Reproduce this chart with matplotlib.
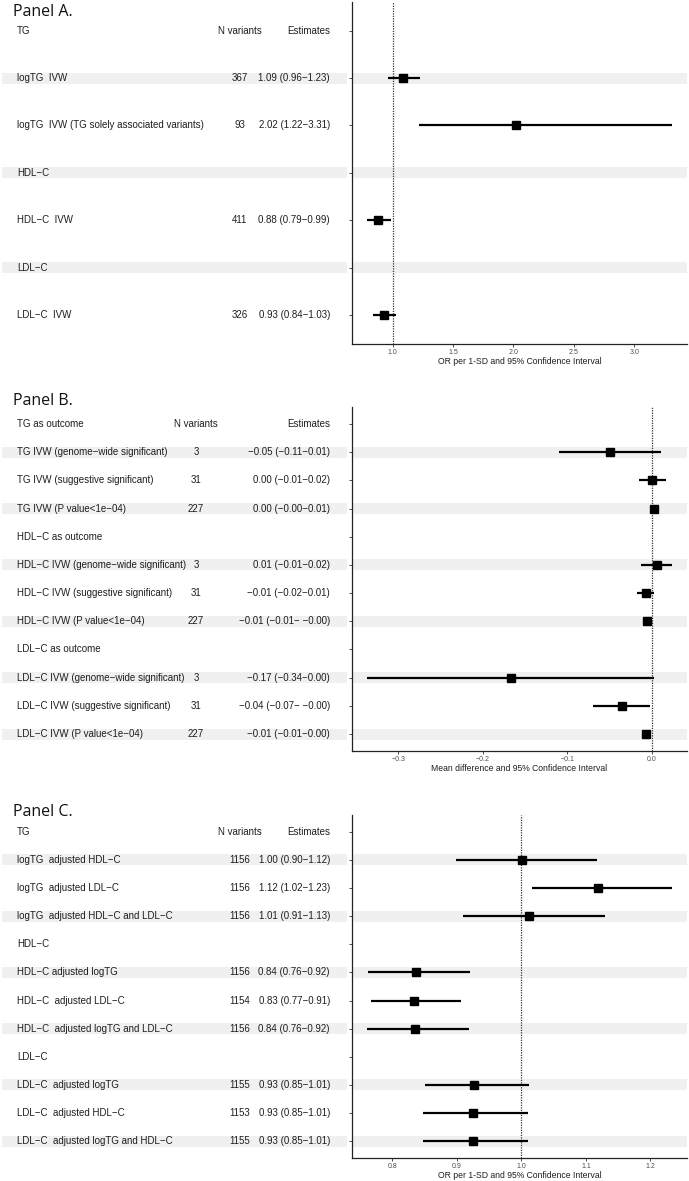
import numpy as np
import matplotlib.pyplot as plt

MINUS = "\u2212"

# ---- Panel A data
a_labels = ["TG", "logTG  IVW", "logTG  IVW (TG solely associated variants)", "HDL-C",
            "HDL-C  IVW", "LDL-C", "LDL-C  IVW"]
a_n = ["N variants", "367", "93", "", "411", "", "326"]
a_est_txt = ["Estimates", "1.09 (0.96-1.23)", "2.02 (1.22-3.31)", "", "0.88 (0.79-0.99)", "",
             "0.93 (0.84-1.03)"]
a_est = [np.nan, 1.09, 2.02, np.nan, 0.88, np.nan, 0.93]
a_lo = [np.nan, 0.96, 1.22, np.nan, 0.79, np.nan, 0.84]
a_hi = [np.nan, 1.23, 3.31, np.nan, 0.99, np.nan, 1.03]
a_ticks = [1.0, 1.5, 2.0, 2.5, 3.0]

# ---- Panel B data
b_labels = ["TG as outcome", "TG IVW (genome-wide significant)", "TG IVW (suggestive significant)",
            "TG IVW (P value<1e-04)", "HDL-C as outcome", "HDL-C IVW (genome-wide significant)",
            "HDL-C IVW (suggestive significant)", "HDL-C IVW (P value<1e-04)", "LDL-C as outcome",
            "LDL-C IVW (genome-wide significant)", "LDL-C IVW (suggestive significant)",
            "LDL-C IVW (P value<1e-04)"]
b_n = ["N variants", "3", "31", "227", "", "3", "31", "227", "", "3", "31", "227"]
b_est_txt = ["Estimates", "-0.05 (-0.11-0.01)", "0.00 (-0.01-0.02)", "0.00 (-0.00-0.01)", "",
             "0.01 (-0.01-0.02)", "-0.01 (-0.02-0.01)", "-0.01 (-0.01- -0.00)", "",
             "-0.17 (-0.34-0.00)", "-0.04 (-0.07- -0.00)", "-0.01 (-0.01-0.00)"]
b_est = [np.nan, -0.049, 0.001, 0.003, np.nan, 0.006, -0.007, -0.005, np.nan, -0.167, -0.0355, -0.006]
b_lo = [np.nan, -0.110, -0.015, -0.001, np.nan, -0.012, -0.017, -0.009, np.nan, -0.337, -0.069, -0.011]
b_hi = [np.nan, 0.011, 0.017, 0.006, np.nan, 0.024, 0.003, -0.002, np.nan, 0.003, -0.002, -0.001]
b_ticks = [-0.3, -0.2, -0.1, 0.0]

# ---- Panel C data
c_labels = ["TG", "logTG  adjusted HDL-C", "logTG  adjusted LDL-C", "logTG  adjusted HDL-C and LDL-C",
            "HDL-C", "HDL-C adjusted logTG", "HDL-C  adjusted LDL-C", "HDL-C  adjusted logTG and LDL-C",
            "LDL-C", "LDL-C  adjusted logTG", "LDL-C  adjusted HDL-C", "LDL-C  adjusted logTG and HDL-C"]
c_n = ["N variants", "1156", "1156", "1156", "", "1156", "1154", "1156", "", "1155", "1153", "1155"]
c_est_txt = ["Estimates", "1.00 (0.90-1.12)", "1.12 (1.02-1.23)", "1.01 (0.91-1.13)", "",
             "0.84 (0.76-0.92)", "0.83 (0.77-0.91)", "0.84 (0.76-0.92)", "",
             "0.93 (0.85-1.01)", "0.93 (0.85-1.01)", "0.93 (0.85-1.01)"]
c_est = [np.nan, 1.001, 1.119, 1.012, np.nan, 0.836, 0.833, 0.835, np.nan, 0.927, 0.925, 0.925]
c_lo = [np.nan, 0.899, 1.017, 0.909, np.nan, 0.762, 0.767, 0.761, np.nan, 0.850, 0.848, 0.848]
c_hi = [np.nan, 1.117, 1.233, 1.130, np.nan, 0.920, 0.906, 0.919, np.nan, 1.012, 1.010, 1.010]
c_ticks = [0.8, 0.9, 1.0, 1.1, 1.2]

W, H = 689, 1181
fig = plt.figure(figsize=(W / 100, H / 100), dpi=100)
plt.rcParams['font.family'] = ['Liberation Sans', 'DejaVu Sans']

TXT = '#1e1e1e'
BAND = '#f0f0f0'
FS = 7.0


def rect(x0, x1, ytop, ybot):
    return [x0 / W, 1 - ybot / H, (x1 - x0) / W, (ybot - ytop) / H]


def m(s):
    return s.replace("-", MINUS)


def panel(title, ytitle, ytop, ybot, labels, nvar, est_txt, est, lo, hi, ticks, ref, xlab, ncol_x):
    n = len(labels)
    ys = np.arange(n)[::-1]
    ylim = (-0.6, n - 1 + 0.6)
    ppu = (ybot - ytop) / (ylim[1] - ylim[0])
    hb = 5.5 / ppu

    fig.text(13 / W, 1 - ytitle / H, title, family='Open Sans', fontsize=11.5, va='baseline',
             ha='left', color='#111111')

    # table on the left
    tx = fig.add_axes(rect(0, 347, ytop, ybot))
    tx.set_xlim(0, 347)
    tx.set_ylim(*ylim)
    tx.axis('off')
    for i, y in enumerate(ys):
        if i % 2 == 1:
            tx.axhspan(y - hb, y + hb, xmin=2 / 347, color=BAND, lw=0)
        tx.text(17, y, m(labels[i]), fontsize=FS, va='center', ha='left', color=TXT)
        tx.text(ncol_x, y, nvar[i], fontsize=FS, va='center', ha='center', color=TXT)
        tx.text(330, y, m(est_txt[i]), fontsize=FS, va='center', ha='right', color=TXT)

    # forest plot
    ax = fig.add_axes(rect(352, 687, ytop, ybot))
    for i, y in enumerate(ys):
        if i % 2 == 1:
            ax.axhspan(y - hb, y + hb, color=BAND, lw=0, zorder=0)
    est = np.array(est)
    lo = np.array(lo)
    hi = np.array(hi)
    ax.hlines(ys, lo, hi, color='black', lw=1.6, zorder=2)
    ax.plot(est, ys, 's', color='black', ms=6, zorder=3)
    ax.axvline(ref, color='#333333', lw=0.9, ls=(0, (1, 1)), zorder=1)
    rng = np.nanmax(hi) - np.nanmin(lo)
    ax.set_xlim(np.nanmin(lo) - 0.05 * rng, np.nanmax(hi) + 0.05 * rng)
    ax.set_ylim(*ylim)
    ax.set_yticks(ys)
    ax.set_yticklabels([])
    ax.set_xticks(ticks)
    ax.set_xticklabels([m("%.1f" % t) for t in ticks])
    ax.tick_params(axis='both', length=2, width=0.6, color='#333333', labelsize=5,
                   labelcolor='#4d4d4d', pad=1.5)
    for s in ['top', 'right']:
        ax.spines[s].set_visible(False)
    for s in ['left', 'bottom']:
        ax.spines[s].set_linewidth(0.9)
        ax.spines[s].set_color('#222222')
    ax.set_xlabel(xlab, fontsize=6.2, color=TXT, labelpad=1)
    ax.set_facecolor('none')


panel("Panel A.", 15.5, 2, 344, a_labels, a_n, a_est_txt, a_est, a_lo, a_hi, a_ticks, 1.0,
      "OR per 1-SD and 95% Confidence Interval", 240)
panel("Panel B.", 405, 407, 751, b_labels, b_n, b_est_txt, b_est, b_lo, b_hi, b_ticks, 0.0,
      "Mean difference and 95% Confidence Interval", 196)
panel("Panel C.", 816, 815, 1158, c_labels, c_n, c_est_txt, c_est, c_lo, c_hi, c_ticks, 1.0,
      "OR per 1-SD and 95% Confidence Interval", 240)

fig.savefig("out.png", dpi=100)
